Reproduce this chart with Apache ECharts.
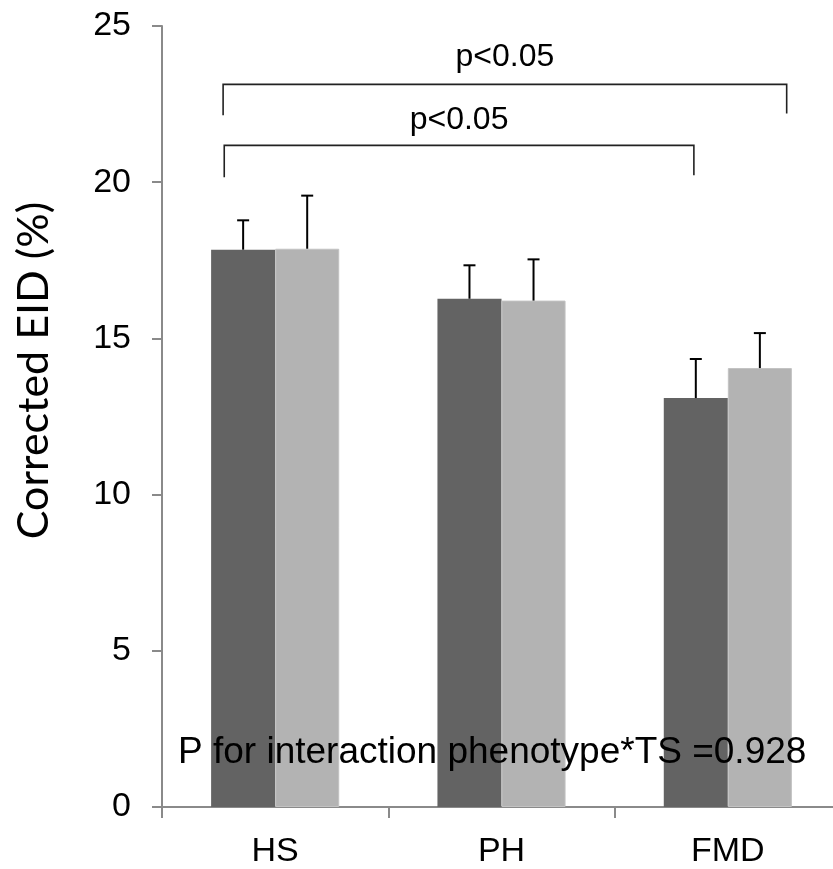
<!DOCTYPE html>
<html>
<head>
<meta charset="utf-8">
<script src="https://cdn.jsdelivr.net/npm/echarts@6/dist/echarts.min.js"></script>
<style>
html,body{margin:0;padding:0;background:#fff;overflow:hidden;width:833px;height:869px;}
#chart{width:841px;height:869px;}
</style>
</head>
<body>
<div id="chart"></div>
<script>
// ---- data ----
var categories = ['HS', 'PH', 'FMD'];
var darkValues = [17.84, 16.27, 13.09];
var lightValues = [17.87, 16.21, 14.05];
var darkErrTop = [18.78, 17.34, 14.34];
var lightErrTop = [19.57, 17.53, 15.17];
var yTicks = [0, 5, 10, 15, 20, 25];
// significance brackets (x in category-index units, y in axis units)
var bracketX1 = [-0.23, -0.225];
var bracketX2 = [2.26, 1.85];
var bracketTopY = [23.13, 21.18];
var bracketBottomLeftY = [22.14, 20.16];
var bracketBottomRightY = [22.2, 20.22];
var bracketLabels = ['p<0.05', 'p<0.05'];
var bracketLabelY = [23.99, 22.0];
var interactionText = 'P for interaction phenotype*TS =0.928';

var BAR_FRAC = 0.283; // bar width as share of category band

var chart = echarts.init(document.getElementById('chart'), null, {renderer: 'canvas'});

function errorItem(sign) {
  return function (params, api) {
    var idx = api.value(0);
    var top = api.value(1);
    var base = api.value(2);
    var band = api.size([1, 0])[0];
    var c = api.coord([idx, base]);
    var t = api.coord([idx, top]);
    var x = c[0] + sign * band * BAR_FRAC / 2;
    var capHalf = 6;
    var style = {stroke: '#000', lineWidth: 2};
    return {
      type: 'group',
      children: [
        {type: 'line', shape: {x1: x, y1: c[1], x2: x, y2: t[1]}, style: style},
        {type: 'line', shape: {x1: x - capHalf, y1: t[1], x2: x + capHalf, y2: t[1]}, style: style}
      ]
    };
  };
}

var darkErrData = categories.map(function (c, i) { return [i, darkErrTop[i], darkValues[i]]; });
var lightErrData = categories.map(function (c, i) { return [i, lightErrTop[i], lightValues[i]]; });
var bracketData = bracketX1.map(function (v, i) {
  return [bracketX1[i], bracketX2[i], bracketTopY[i], bracketBottomLeftY[i], bracketBottomRightY[i], bracketLabelY[i], i];
});

var option = {
  animation: false,
  backgroundColor: '#ffffff',
  grid: {left: 162, right: 0, top: 26, bottom: 60, containLabel: false},
  xAxis: {
    type: 'category',
    data: categories,
    axisLine: {lineStyle: {color: '#8a8a8a', width: 2}},
    axisTick: {show: true, length: 11, lineStyle: {color: '#8a8a8a', width: 2}},
    axisLabel: {fontFamily: 'Liberation Sans', fontSize: 34, color: '#000', margin: 28}
  },
  yAxis: {
    type: 'value',
    min: yTicks[0],
    max: yTicks[yTicks.length - 1],
    interval: 5,
    name: 'Corrected EID (%)',
    nameLocation: 'middle',
    nameGap: 106,
    nameRotate: 90,
    nameTextStyle: {fontFamily: 'Lato', fontSize: 43, color: '#000', padding: [0, 0, 0, 92]},
    splitLine: {show: false},
    axisLine: {show: true, lineStyle: {color: '#8a8a8a', width: 2}},
    axisTick: {show: true, length: 10, lineStyle: {color: '#8a8a8a', width: 2}},
    axisLabel: {fontFamily: 'Liberation Sans', fontSize: 34, color: '#000', margin: 31}
  },
  series: [
    {
      name: 'Group A',
      type: 'bar',
      data: darkValues,
      barWidth: (BAR_FRAC * 100) + '%',
      barGap: '0%',
      itemStyle: {color: '#636363'}
    },
    {
      name: 'Group B',
      type: 'bar',
      data: lightValues,
      barWidth: (BAR_FRAC * 100) + '%',
      barGap: '0%',
      itemStyle: {color: '#b3b3b3', borderColor: '#c2c2c2', borderWidth: 1}
    },
    {
      type: 'custom',
      data: darkErrData,
      renderItem: errorItem(-1),
      z: 5
    },
    {
      type: 'custom',
      data: lightErrData,
      renderItem: errorItem(1),
      z: 5
    },
    {
      type: 'custom',
      data: bracketData,
      z: 6,
      clip: false,
      renderItem: function (params, api) {
        var band = api.size([1, 0])[0];
        var c0 = api.coord([0, 0])[0];
        var x1 = c0 + api.value(0) * band;
        var x2 = c0 + api.value(1) * band;
        var yt = api.coord([0, api.value(2)])[1];
        var ybl = api.coord([0, api.value(3)])[1];
        var ybr = api.coord([0, api.value(4)])[1];
        var yl = api.coord([0, api.value(5)])[1];
        var label = bracketLabels[api.value(6)];
        var style = {stroke: '#222', lineWidth: 1.6, fill: null};
        return {
          type: 'group',
          children: [
            {type: 'polyline', shape: {points: [[x1, ybl], [x1, yt], [x2, yt], [x2, ybr]]}, style: style},
            {type: 'text', style: {text: label, x: (x1 + x2) / 2, y: yl, textAlign: 'center', textVerticalAlign: 'middle', fontFamily: 'Liberation Sans', fontSize: 32, fill: '#000'}}
          ]
        };
      }
    }
  ],
  graphic: [
    {
      type: 'text',
      left: 178,
      top: 734,
      z: 100,
      style: {text: interactionText, fontFamily: 'Liberation Sans', fontSize: 37, fill: '#000'}
    }
  ]
};
chart.setOption(option);
</script>
</body>
</html>
